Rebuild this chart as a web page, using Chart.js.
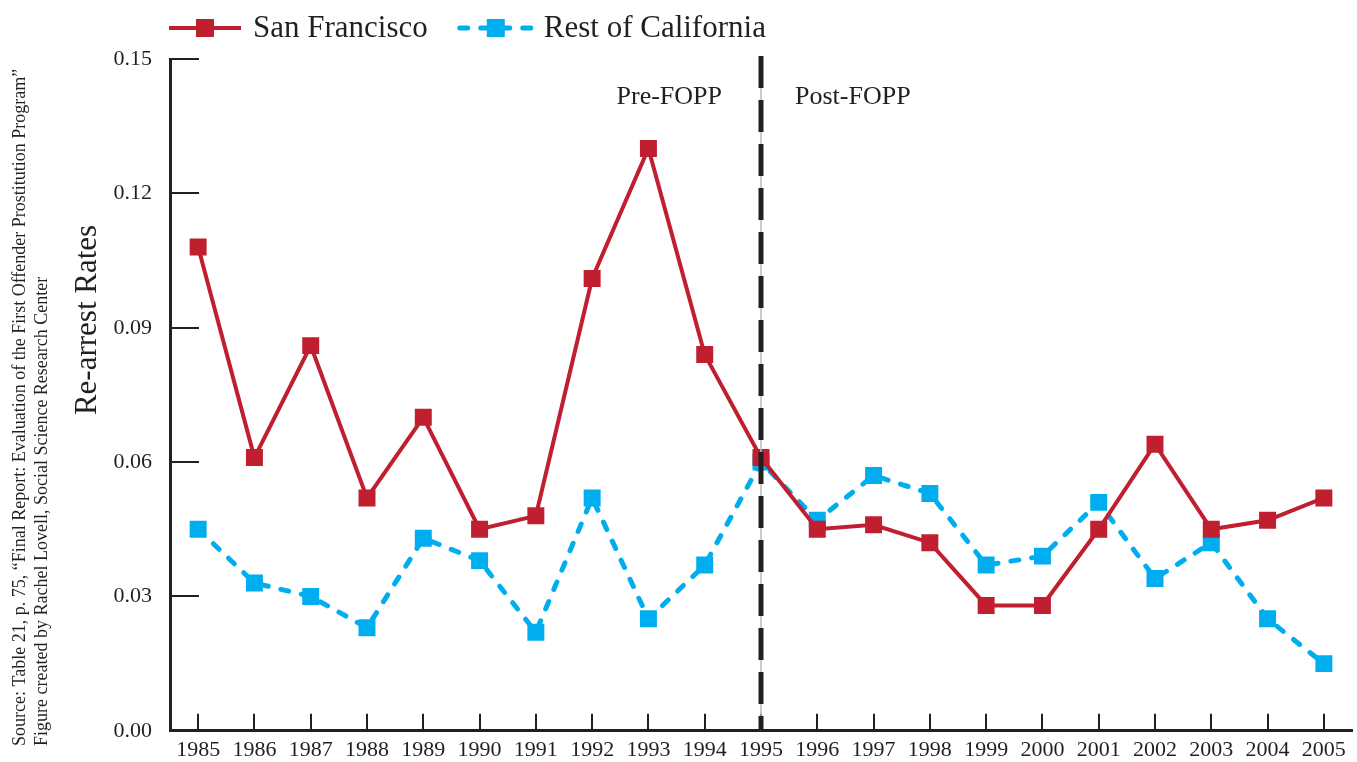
<!DOCTYPE html>
<html>
<head>
<meta charset="utf-8">
<script src="https://cdn.jsdelivr.net/npm/chart.js@4"></script>
<style>
  html, body { margin: 0; padding: 0; background: #fff; }
  canvas { display: block; }
</style>
</head>
<body>
<canvas id="myChart" width="1357" height="762"></canvas>
<script>
const years = ['1985', '1986', '1987', '1988', '1989', '1990', '1991', '1992', '1993', '1994', '1995',
  '1996', '1997', '1998', '1999', '2000', '2001', '2002', '2003', '2004', '2005'];
const sanFrancisco = [0.108, 0.061, 0.086, 0.052, 0.070, 0.045, 0.048, 0.101, 0.130, 0.084, 0.061,
  0.045, 0.046, 0.042, 0.028, 0.028, 0.045, 0.064, 0.045, 0.047, 0.052];
const restOfCalifornia = [0.045, 0.033, 0.030, 0.023, 0.043, 0.038, 0.022, 0.052, 0.025, 0.037, 0.060,
  0.047, 0.057, 0.053, 0.037, 0.039, 0.051, 0.034, 0.042, 0.025, 0.015];
const yTickValues = [0, 0.03, 0.06, 0.09, 0.12, 0.15];
const programStart = '1995';
const preLabel = 'Pre-FOPP';
const postLabel = 'Post-FOPP';
const yTitle = 'Re-arrest Rates';
const sourceLines = [
  'Source: Table 21, p. 75, \u201cFinal Report: Evaluation of the First Offender Prostitution Program\u201d',
  'Figure created by Rachel Lovell, Social Science Research Center'
];

const ink = '#231f20';
const serif = "'Liberation Serif', 'DejaVu Serif', serif";

// legend drawn by hand: line + square marker, then the label
const lineLegend = {
  id: 'lineLegend',
  afterDraw(chart) {
    const ctx = chart.ctx;
    let x = 167;
    const y = 28;
    ctx.save();
    ctx.font = '31px ' + serif;
    ctx.textBaseline = 'middle';
    ctx.textAlign = 'left';
    chart.data.datasets.forEach(ds => {
      ctx.strokeStyle = ds.borderColor;
      ctx.lineWidth = ds.borderWidth;
      ctx.lineCap = ds.borderCapStyle || 'butt';
      ctx.setLineDash(ds.borderDash || []);
      ctx.beginPath();
      ctx.moveTo(x + 2, y);
      ctx.lineTo(x + 74, y);
      ctx.stroke();
      ctx.setLineDash([]);
      ctx.fillStyle = ds.pointBackgroundColor;
      ctx.fillRect(x + 29, y - 9, 18, 18);
      ctx.fillStyle = ink;
      ctx.fillText(ds.label, x + 86, y + 1);
      x += 86 + ctx.measureText(ds.label).width + 30;
    });
    ctx.restore();
  }
};

// short inward tick marks on both axes
const innerTicks = {
  id: 'innerTicks',
  beforeDatasetsDraw(chart) {
    const {ctx, chartArea, scales} = chart;
    ctx.save();
    ctx.strokeStyle = ink;
    ctx.lineWidth = 2;
    ctx.beginPath();
    scales.y.ticks.forEach(t => {
      if (t.value === 0) return;
      const py = Math.round(scales.y.getPixelForValue(t.value));
      ctx.moveTo(chartArea.left, py);
      ctx.lineTo(chartArea.left + 29, py);
    });
    years.forEach((yr, i) => {
      const px = Math.round(scales.x.getPixelForValue(i));
      ctx.moveTo(px, chartArea.bottom);
      ctx.lineTo(px, chartArea.bottom - 17);
    });
    ctx.stroke();
    ctx.restore();
  }
};

// dashed divider at the program start with the pre/post labels
const divider = {
  id: 'divider',
  afterDatasetsDraw(chart) {
    const {ctx, chartArea, scales} = chart;
    const px = Math.round(scales.x.getPixelForValue(years.indexOf(programStart)));
    const top = chartArea.top - 3;
    ctx.save();
    ctx.strokeStyle = '#b8b8b8';
    ctx.lineWidth = 1.5;
    ctx.beginPath();
    ctx.moveTo(px, top);
    ctx.lineTo(px, chartArea.bottom);
    ctx.stroke();
    ctx.strokeStyle = ink;
    ctx.lineWidth = 5;
    ctx.setLineDash([32, 12]);
    ctx.beginPath();
    ctx.moveTo(px, top);
    ctx.lineTo(px, chartArea.bottom);
    ctx.stroke();
    ctx.setLineDash([]);
    ctx.fillStyle = ink;
    ctx.font = '26px ' + serif;
    ctx.textBaseline = 'middle';
    ctx.textAlign = 'right';
    ctx.fillText(preLabel, px - 39, 97);
    ctx.textAlign = 'left';
    ctx.fillText(postLabel, px + 34, 97);
    ctx.restore();
  }
};

// rotated axis title and source note at the left edge
const sideTexts = {
  id: 'sideTexts',
  afterDraw(chart) {
    const ctx = chart.ctx;
    ctx.save();
    ctx.fillStyle = ink;
    ctx.font = '31px ' + serif;
    ctx.textAlign = 'center';
    ctx.textBaseline = 'middle';
    ctx.save();
    ctx.translate(88, 320);
    ctx.rotate(-Math.PI / 2);
    ctx.fillText(yTitle, 0, 0);
    ctx.restore();

    ctx.font = '18px ' + serif;
    ctx.textAlign = 'left';
    ctx.textBaseline = 'alphabetic';
    [25, 47].forEach((bx, i) => {
      ctx.save();
      ctx.translate(bx, 746);
      ctx.rotate(-Math.PI / 2);
      ctx.fillText(sourceLines[i], 0, 0);
      ctx.restore();
    });
    ctx.restore();
  }
};

const ctx = document.getElementById('myChart').getContext('2d');

const myChart = new Chart(ctx, {
  type: 'line',
  data: {
    labels: years,
    datasets: [{
      label: 'San Francisco',
      data: sanFrancisco,
      borderColor: '#c01f2f',
      backgroundColor: '#c01f2f',
      pointBackgroundColor: '#c01f2f',
      pointBorderWidth: 0,
      borderWidth: 4,
      pointStyle: 'rect',
      pointRadius: 12,
      tension: 0
    }, {
      label: 'Rest of California',
      data: restOfCalifornia,
      borderColor: '#00aeef',
      backgroundColor: '#00aeef',
      pointBackgroundColor: '#00aeef',
      pointBorderWidth: 0,
      borderWidth: 5,
      borderDash: [8, 13],
      borderCapStyle: 'round',
      pointStyle: 'rect',
      pointRadius: 12,
      tension: 0
    }]
  },
  options: {
    responsive: false,
    animation: false,
    devicePixelRatio: 1,
    layout: { autoPadding: false, padding: { top: 59, left: 58, right: 5, bottom: 0 } },
    plugins: {
      legend: { display: false },
      tooltip: { enabled: false }
    },
    scales: {
      x: {
        offset: true,
        grid: { display: false, drawTicks: false },
        border: { display: true, color: ink, width: 3 },
        ticks: {
          color: ink,
          font: { family: serif, size: 22 },
          padding: 6,
          autoSkip: false,
          maxRotation: 0
        },
        afterFit(scale) {
          scale.height = 31;
          scale.paddingLeft = 0;
          scale.paddingRight = 0;
        }
      },
      y: {
        min: 0,
        max: 0.15,
        grid: { display: false, drawTicks: false },
        border: { display: true, color: ink, width: 3 },
        afterBuildTicks(scale) {
          scale.ticks = yTickValues.map(v => ({ value: v }));
        },
        ticks: {
          color: ink,
          font: { family: serif, size: 22 },
          padding: 18,
          callback: v => Number(v).toFixed(2)
        },
        afterFit(scale) { scale.width = 112; }
      }
    }
  },
  plugins: [lineLegend, innerTicks, divider, sideTexts]
});
</script>
</body>
</html>
